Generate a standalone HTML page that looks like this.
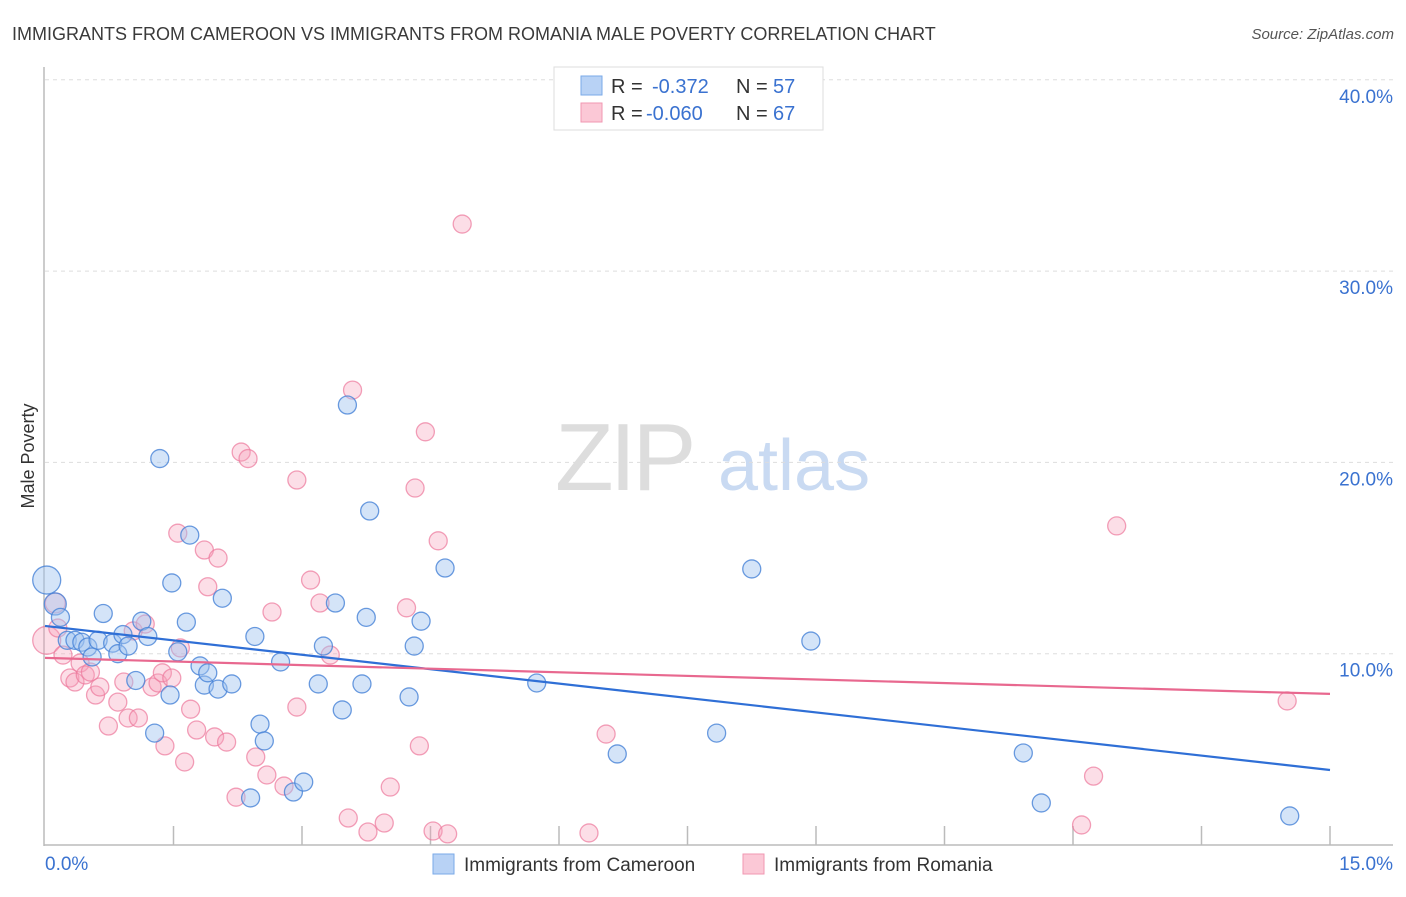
<!DOCTYPE html>
<html><head><meta charset="utf-8"><style>
body{margin:0;background:#fff;font-family:"Liberation Sans",sans-serif;}
svg text{font-family:"Liberation Sans",sans-serif;}
</style></head><body>
<svg id="chart" width="1406" height="892" xmlns="http://www.w3.org/2000/svg">
<text x="12" y="40" font-size="18" fill="#3a3a3a">IMMIGRANTS FROM CAMEROON VS IMMIGRANTS FROM ROMANIA MALE POVERTY CORRELATION CHART</text>
<text x="1394" y="39" font-size="15" fill="#555" font-style="italic" text-anchor="end">Source: ZipAtlas.com</text>
<g>
<text x="555" y="490" font-size="96" fill="#ddd" font-family="Liberation Serif" letter-spacing="-4">ZIP</text>
<text x="718" y="490" font-size="72" fill="#c9daf2">atlas</text>
</g>
<g id="grid"></g>
<g id="axes"></g>
<g id="pink"></g>
<g id="blue"></g>
<g id="trends"></g>
<g>
<rect x="554" y="67" width="269" height="63" fill="#fff" stroke="#ddd"/>
<rect x="581" y="76" width="21" height="19" fill="#b8d2f5" stroke="#7aaae8"/>
<rect x="581" y="103" width="21" height="19" fill="#fbc8d6" stroke="#f097b2"/>
<text x="611" y="93" font-size="20" fill="#333">R = </text><text x="652" y="93" font-size="20" fill="#3a72d0">-0.372</text>
<text x="736" y="93" font-size="20" fill="#333">N = </text><text x="773" y="93" font-size="20" fill="#3a72d0">57</text>
<text x="611" y="120" font-size="20" fill="#333">R = </text><text x="646" y="120" font-size="20" fill="#3a72d0">-0.060</text>
<text x="736" y="120" font-size="20" fill="#333">N = </text><text x="773" y="120" font-size="20" fill="#3a72d0">67</text>
</g>
<g>
<rect x="433" y="854" width="21" height="20" fill="#b8d2f5" stroke="#7aaae8"/>
<text x="464" y="871" font-size="19" fill="#333">Immigrants from Cameroon</text>
<rect x="743" y="854" width="21" height="20" fill="#fbc8d6" stroke="#f097b2"/>
<text x="774" y="871" font-size="19" fill="#333">Immigrants from Romania</text>
</g>
</svg>
<script>
const blueX=[0.02,0.12,0.18,0.26,0.35,0.43,0.50,0.55,0.62,0.68,0.79,0.85,0.91,0.97,1.06,1.13,1.20,1.28,1.34,1.46,1.48,1.55,1.65,1.69,1.81,1.86,1.90,2.02,2.07,2.18,2.45,2.51,2.56,2.40,2.75,2.90,3.02,3.19,3.25,3.39,3.47,3.53,3.70,3.75,3.79,4.25,4.31,4.39,4.67,5.74,6.68,7.84,8.25,8.94,11.42,11.63,14.53];
const blueY=[13.85,12.6,11.9,10.7,10.7,10.6,10.35,9.83,10.7,12.1,10.55,10.0,11.0,10.4,8.6,11.7,10.9,5.85,20.2,7.84,13.7,10.1,11.65,16.2,9.36,8.36,9.0,8.15,12.9,8.42,10.9,6.32,5.44,2.46,9.57,2.77,3.29,8.42,10.4,12.65,7.06,23.0,8.42,11.9,17.46,7.74,10.4,11.7,14.48,8.47,4.76,5.85,14.43,10.66,4.81,2.2,1.52];
const pinkX=[0.02,0.12,0.15,0.21,0.29,0.35,0.41,0.47,0.53,0.59,0.64,0.74,0.85,0.92,0.97,1.03,1.09,1.17,1.25,1.32,1.37,1.40,1.48,1.55,1.63,1.70,1.58,1.77,1.86,1.90,1.98,2.02,2.12,2.23,2.29,2.37,2.46,2.59,2.65,2.79,2.94,2.94,3.10,3.21,3.33,3.54,3.59,3.77,3.96,4.03,4.22,4.32,4.37,4.44,4.53,4.59,4.70,4.87,6.55,6.35,12.24,12.1,12.51,14.5];
const pinkY=[10.7,12.65,11.34,9.93,8.73,8.52,9.51,8.89,9.04,7.84,8.26,6.22,7.47,8.52,6.64,11.19,6.64,11.55,8.26,8.47,9.0,5.18,8.73,16.3,4.34,7.1,10.3,6.01,15.42,13.5,5.65,15.0,5.38,2.5,20.54,20.2,4.6,3.66,12.18,3.08,19.08,7.21,13.85,12.65,9.93,1.41,23.78,0.68,1.15,3.03,12.4,18.66,5.18,21.6,0.73,15.9,0.58,32.46,5.8,0.63,3.6,1.05,16.68,7.53];
const blueSize=[14,11];const pinkSize=[14,10];
const trendBlue=[11.45,3.92];const trendPink=[9.78,7.9];
const yTicks=[10,20,30,40];const yTickLabels=["10.0%","20.0%","30.0%","40.0%"];
const xTicks=[0,1.5,3,4.5,6,7.5,9,10.5,12,13.5,15];
const NS="http://www.w3.org/2000/svg";
const X=v=>45+v/15*1285, Y=v=>845-v*19.13;
function mk(tag,attrs,parent){const e=document.createElementNS(NS,tag);for(const k in attrs)e.setAttribute(k,attrs[k]);document.getElementById(parent).appendChild(e);return e;}
yTicks.forEach((t,i)=>{
 const l=mk('line',{x1:45,x2:1393,y1:Y(t),y2:Y(t),stroke:'#ddd','stroke-dasharray':'4,4'},'grid');
 
 
 const tx=mk('text',{x:1393,y:Y(t)+23,'font-size':19,fill:'#3a72d0','text-anchor':'end'},'grid');
 tx.textContent=yTickLabels[i];
 
 
});
let a=mk('line',{x1:44,x2:44,y1:67,y2:846,stroke:'#bbb','stroke-width':1.5},'axes');


a=mk('line',{x1:44,x2:1393,y1:845,y2:845,stroke:'#bbb','stroke-width':1.5},'axes');


xTicks.slice(1).forEach(t=>{const l=mk('line',{x1:X(t),x2:X(t),y1:826,y2:845,stroke:'#bbb','stroke-width':1.5},'axes');
 
 });
let t=mk('text',{x:45,y:870,'font-size':19,fill:'#3a72d0'},'axes');t.textContent='0.0%';


t=mk('text',{x:1393,y:870,'font-size':19,fill:'#3a72d0','text-anchor':'end'},'axes');t.textContent='15.0%';


t=mk('text',{x:34,y:456,'font-size':18,fill:'#333','text-anchor':'middle',transform:'rotate(-90 34 456)'},'axes');t.textContent='Male Poverty';


function pts(xs,ys,sz,g,fill,stroke){xs.forEach((x,i)=>{const c=mk('circle',{cx:X(x),cy:Y(ys[i]),r:i<sz.length?sz[i]:9,fill:fill,stroke:stroke,'stroke-width':1.3},g);
 
 });}
pts(pinkX,pinkY,pinkSize,'pink','rgba(246,160,186,0.35)','rgba(236,120,155,0.7)');
pts(blueX,blueY,blueSize,'blue','rgba(160,196,240,0.45)','rgba(70,130,215,0.8)');
let tl=mk('line',{x1:X(0),y1:Y(trendBlue[0]),x2:X(15),y2:Y(trendBlue[1]),stroke:'#2f6fd6','stroke-width':2.2},'trends');


tl=mk('line',{x1:X(0),y1:Y(trendPink[0]),x2:X(15),y2:Y(trendPink[1]),stroke:'#e8688f','stroke-width':2.2},'trends');


</script>
</body></html>
